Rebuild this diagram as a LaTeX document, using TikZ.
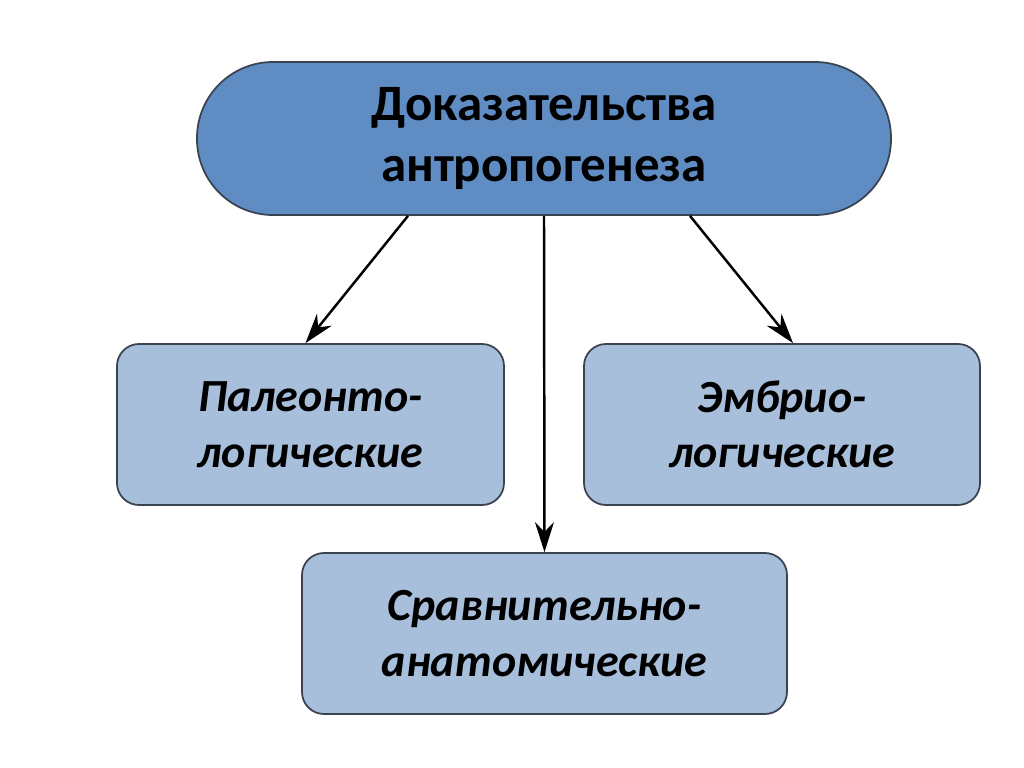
\documentclass[tikz,border=0pt]{standalone}
\usepackage{fontspec}
\setmainfont{Carlito}
\usepackage{tikz}
\usetikzlibrary{arrows.meta}
\definecolor{headblue}{HTML}{5F8DC3}
\definecolor{boxblue}{HTML}{A8BFDC}
\definecolor{edgegray}{HTML}{3A4350}

\begin{document}
\begin{tikzpicture}[
 headbox/.style={draw=edgegray,line width=0.5pt,fill=headblue,rounded corners=7.6mm,
  minimum width=6.94cm,minimum height=1.53cm,align=center,
  font=\bfseries\fontsize{14.5}{17.6}\selectfont},
 kindbox/.style={draw=edgegray,line width=0.5pt,fill=boxblue,rounded corners=2.2mm,
  minimum height=1.61cm,align=center,
  font=\bfseries\itshape\fontsize{13.1}{15.8}\selectfont},
 link/.style={line width=0.7pt,-{Stealth[length=3mm,width=1.9mm]}}]
 \useasboundingbox (0,0) rectangle (10.24,-7.68);
 \node[headbox] (head) at (5.44,-1.385) {Доказательства\\антропогенеза};
 \node[kindbox,minimum width=3.87cm] (paleo) at (3.105,-4.245) {Палеонто-\\логические};
 \node[kindbox,minimum width=3.96cm] (embryo) at (7.82,-4.245) {Эмбрио-\\логические};
 \node[kindbox,minimum width=4.85cm] (anat) at (5.445,-6.335) {Сравнительно-\\анатомические};
 \draw[link] ([xshift=-1.36cm]head.south) -- ([xshift=-0.05cm]paleo.north);
 \draw[link] (head.south) -- (anat.north);
 \draw[link] ([xshift=1.46cm]head.south) -- ([xshift=0.11cm]embryo.north);
\end{tikzpicture}
\end{document}
